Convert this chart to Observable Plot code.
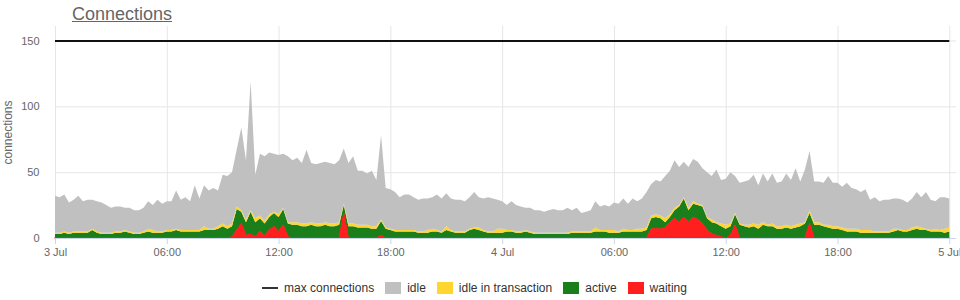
<!DOCTYPE html>
<html>
<head>
<meta charset="utf-8">
<script src="https://cdn.jsdelivr.net/npm/d3@7"></script>
<script src="https://cdn.jsdelivr.net/npm/@observablehq/plot@0.6"></script>
<style>
  body { margin: 0; background: #fff; font-family: "Liberation Sans", Arial, sans-serif; }
  #title { height: 26px; box-sizing: border-box; padding: 5px 0 0 72px; font-size: 18px; line-height: 1; color: #666; }
  #title span { text-decoration: underline; }
  #legend { display: flex; justify-content: center; align-items: center; height: 24px; font-size: 12px; color: #333; padding-right: 11px; }
  .item { display: flex; align-items: center; margin-right: 11px; }
  .item:last-child { margin-right: 0; }
  .sw { width: 16px; height: 12px; margin-right: 6px; }
  .ln { width: 16px; height: 2px; background: #333; margin-right: 6px; }
</style>
</head>
<body>
<div id="title"><span>Connections</span></div>
<div id="chart"></div>
<div id="legend"></div>
<script>
// 15-minute samples from 3 Jul 00:00 to 5 Jul 00:00
const waiting = [
  0,0,0,0, 0,0,0,0, 0,0,0,0,
  0,0,0,0, 0,0,0,0, 0,0,0,0,
  0,0,0,0, 0,0,0,0, 0,0,0,0,
  0,0,1,6, 11,2,3,1, 5,2,6,9,
  5,10,1,0, 0,0,0,0, 0,0,0,0,
  0,0,19,0, 0,0,0,0, 0,0,2,0,
  0,0,0,0, 0,0,0,0, 0,0,0,0,
  0,0,0,0, 0,0,0,0, 0,0,0,0,
  0,0,0,0, 0,0,0,0, 0,0,0,0,
  0,0,0,0, 0,0,0,0, 0,0,0,0,
  0,0,0,0, 0,0,0,0, 7,7,7,8,
  12,15,12,16, 12,16,14,11, 6,3,2,1,
  0,2,10,0, 0,0,0,0, 0,0,0,0,
  0,0,0,0, 0,0,11,0, 0,0,0,0,
  0,0,0,0, 0,0,0,0, 0,0,0,0,
  0,0,0,0, 0,0,0,0, 0,0,0,0,
  0
];
const active = [
  3,3,4,3, 4,4,4,4, 6,4,3,3,
  3,4,4,5, 4,3,3,4, 5,4,4,4,
  5,5,6,5, 5,5,5,5, 6,6,6,7,
  9,7,8,16, 9,10,17,11, 10,9,10,10,
  11,12,10,10, 10,9,9,10, 9,9,10,9,
  9,10,6,9, 9,8,8,8, 7,7,11,7,
  6,5,5,5, 5,5,4,4, 4,5,5,4,
  6,5,4,4, 4,6,7,6, 5,4,4,4,
  4,5,5,4, 4,5,4,3, 3,3,3,3,
  3,3,3,4, 4,4,4,4, 5,5,5,4,
  4,4,5,5, 5,5,5,6, 8,9,8,4,
  4,6,12,14, 9,10,11,13, 9,9,9,8,
  7,7,8,10, 9,8,9,7, 10,9,9,7,
  7,8,7,8, 9,11,8,10, 10,9,8,7,
  7,6,5,5, 5,4,4,4, 4,4,4,4,
  5,6,5,5, 6,7,6,6, 5,5,5,4,
  5
];
const idleInTransaction = [
  1,1,1,1, 1,1,1,1, 1,1,1,1,
  1,1,1,1, 1,1,1,1, 2,2,1,1,
  1,1,1,1, 1,1,1,1, 3,1,1,2,
  2,2,2,2, 1,2,1,3, 2,2,2,1,
  2,1,1,2, 2,2,2,2, 2,2,2,2,
  2,2,1,2, 2,2,2,2, 2,2,1,1,
  1,1,1,1, 1,1,1,1, 2,2,1,1,
  3,1,1,1, 1,1,1,2, 1,1,1,3,
  3,1,1,1, 1,1,1,1, 1,1,1,1,
  1,1,1,1, 1,1,1,1, 3,1,1,2,
  2,1,2,1, 1,2,2,2, 2,2,2,3,
  2,2,1,1, 2,2,1,1, 1,2,1,2,
  3,2,1,1, 1,2,2,3, 2,1,2,2,
  2,2,2,2, 2,1,2,2, 2,1,2,2,
  2,2,2,2, 2,2,2,2, 1,1,1,1,
  2,1,1,1, 2,2,2,1, 1,2,1,3,
  3
];
const idle = [
  28,27,28,23, 24,27,23,24, 22,23,23,21,
  19,19,19,17, 18,17,17,18, 21,19,24,21,
  22,22,29,23, 25,22,34,24, 31,29,31,27,
  37,38,39,43, 63,45,98,33, 47,49,47,44,
  45,41,50,47, 49,46,56,45, 45,46,46,46,
  45,47,42,46, 51,41,41,39, 42,35,64,30,
  30,29,25,27, 27,25,24,25, 24,24,27,25,
  25,24,24,24, 23,24,27,23, 24,26,25,22,
  21,19,22,20, 19,17,18,17, 17,16,17,18,
  17,17,19,16, 18,14,15,16, 20,18,19,18,
  21,21,23,20, 24,21,23,27, 24,26,26,32,
  33,36,29,27, 31,32,32,28, 34,33,40,33,
  35,39,28,31, 33,34,37,30, 37,33,38,33,
  34,39,35,43, 32,40,45,31, 31,32,37,33,
  33,31,35,31, 30,29,31,23, 26,23,24,24,
  23,23,23,21, 22,26,23,28, 23,21,25,24,
  22
];
const maxConnections = 150;
const seriesNames = ["waiting", "active", "idle in transaction", "idle"];
const seriesColors = ["#ff1f1f", "#1a7f1a", "#ffd52e", "#c0c0c0"];
const legendOrder = ["idle", "idle in transaction", "active", "waiting"];
const tickHours = [0, 6, 12, 18, 24, 30, 36, 42, 48];
const tickLabels = ["3 Jul", "06:00", "12:00", "18:00", "4 Jul", "06:00", "12:00", "18:00", "5 Jul"];
const yTicks = [0, 50, 100, 150];
const yTitle = "connections";

const start = Date.UTC(2024, 6, 3);
const H = 3600 * 1000;
const times = waiting.map((_, i) => new Date(start + i * H / 4));
const tickDates = tickHours.map(h => new Date(start + h * H));
const labelOf = new Map(tickDates.map((d, i) => [d.getTime(), tickLabels[i]]));

const valuesBySeries = {"waiting": waiting, "active": active, "idle in transaction": idleInTransaction, "idle": idle};
const rows = [];
times.forEach((t, i) => {
  for (const s of seriesNames) rows.push({time: t, series: s, value: valuesBySeries[s][i]});
});

const chart = Plot.plot({
  width: 960,
  height: 250,
  marginTop: 0,
  marginLeft: 55,
  marginRight: 4,
  marginBottom: 38,
  style: {fontFamily: "Liberation Sans, Arial, sans-serif", fontSize: "11px", color: "#666", background: "#fff"},
  x: {type: "utc", domain: [new Date(start), new Date(start + 48.36 * H)]},
  y: {domain: [0, 161]},
  color: {domain: seriesNames, range: seriesColors},
  marks: [
    Plot.gridX(tickDates, {stroke: "#e6e6e6", strokeOpacity: 1}),
    Plot.gridY([50, 100, 150], {stroke: "#e6e6e6", strokeOpacity: 1}),
    Plot.areaY(rows, {x: "time", y: "value", fill: "series", order: seriesNames}),
    Plot.areaY(rows.filter(r => r.series === "waiting"), {x: "time", y: "value", fill: seriesColors[0], stroke: seriesColors[0], strokeWidth: 1}),
    Plot.ruleY([maxConnections], {x1: times[0], x2: times[times.length - 1], stroke: "#111", strokeWidth: 2}),
    Plot.ruleY([0], {stroke: "#ccd6eb"}),
    Plot.axisX(tickDates, {tickFormat: d => labelOf.get(d.getTime()), tickSize: 6, tickPadding: 4, stroke: "#ccd6eb", fill: "#666", label: null}),
    Plot.axisY(yTicks, {tickSize: 0, tickPadding: 16, fill: "#666", label: null}),
    Plot.text([yTitle], {frameAnchor: "left", textAnchor: "middle", lineAnchor: "middle", rotate: -90, dx: -47, fontSize: 12, fill: "#666", text: d => d})
  ]
});
document.getElementById("chart").appendChild(chart);

const legend = document.getElementById("legend");
const li = document.createElement("div");
li.className = "item";
li.innerHTML = '<div class="ln"></div><span>max connections</span>';
legend.appendChild(li);
for (const s of legendOrder) {
  const it = document.createElement("div");
  it.className = "item";
  const c = seriesColors[seriesNames.indexOf(s)];
  it.innerHTML = '<div class="sw" style="background:' + c + '"></div><span>' + s + '</span>';
  legend.appendChild(it);
}
</script>
</body>
</html>
